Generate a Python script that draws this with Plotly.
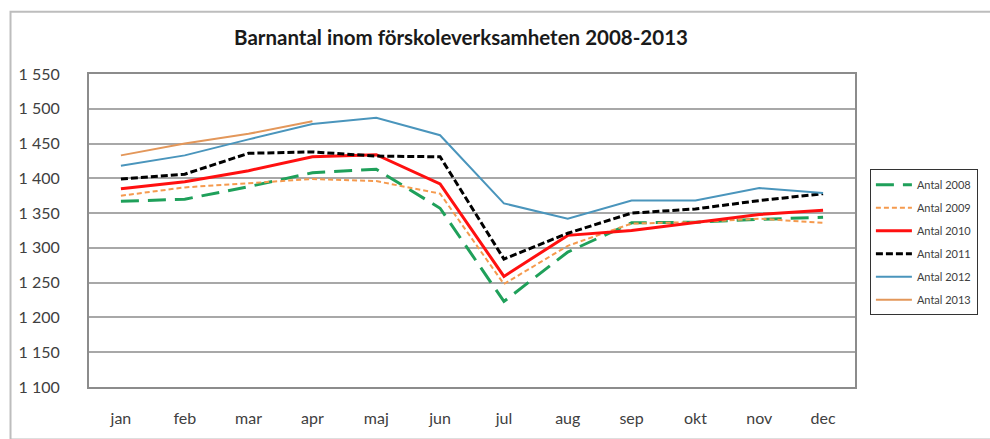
import plotly.graph_objects as go

# Months and monthly child counts per year
months = ["jan", "feb", "mar", "apr", "maj", "jun", "jul", "aug", "sep", "okt", "nov", "dec"]

antal_2008 = [1367, 1370, 1388, 1408, 1413, 1357, 1223, 1294, 1336, 1337, 1341, 1344]
antal_2009 = [1375, 1387, 1393, 1399, 1396, 1378, 1248, 1303, 1335, 1337, 1342, 1336]
antal_2010 = [1385, 1395, 1411, 1431, 1434, 1392, 1259, 1318, 1325, 1337, 1348, 1354]
antal_2011 = [1399, 1406, 1436, 1438, 1432, 1431, 1284, 1321, 1350, 1356, 1368, 1378]
antal_2012 = [1418, 1433, 1456, 1478, 1487, 1462, 1364, 1342, 1368, 1368, 1386, 1379]
antal_2013 = [1433, 1450, 1464, 1482]

y_ticks = [1100, 1150, 1200, 1250, 1300, 1350, 1400, 1450, 1500, 1550]

series = [
    ("Antal 2008", antal_2008, "#1FA05A", 3, "18px,9px"),
    ("Antal 2009", antal_2009, "#F59A4E", 2, "5px,3px"),
    ("Antal 2010", antal_2010, "#FF1010", 3, "solid"),
    ("Antal 2011", antal_2011, "#000000", 3, "7px,3px"),
    ("Antal 2012", antal_2012, "#4A95BC", 2, "solid"),
    ("Antal 2013", antal_2013, "#E3975A", 2, "solid"),
]

FONT = "Lato"

fig = go.Figure()
for i, (name, vals, color, width, dash) in enumerate(series):
    fig.add_trace(go.Scatter(
        x=months[:len(vals)], y=vals, name=name, mode="lines",
        line=dict(color=color, width=width, dash=dash),
        legendgroup=f"g{i}",
    ))

# plot area in pixels: left 89, right 860, top 74, bottom 396
W, H = 990, 439
L, R, T, B = 89, 860, 74, 396
pw, ph = R - L, B - T

def px_x(x):
    return (x - L) / pw

def px_y(y):
    return (B - y) / ph

fig.update_layout(
    width=W, height=H,
    margin=dict(l=L, r=W - R, t=T, b=H - B, pad=0),
    paper_bgcolor="white", plot_bgcolor="white",
    separators=", ",
    font=dict(family=FONT, color="#404040"),
    title=dict(
        text="<b>Barnantal inom förskoleverksamheten 2008-2013</b>",
        x=461 / W, xanchor="center",
        y=1 - 38 / H, yanchor="middle",
        font=dict(family=FONT, size=20.5, color="#1a1a1a"),
    ),
    showlegend=True,
    legend=dict(
        x=px_x(875), y=px_y(172), xanchor="left", yanchor="top",
        bordercolor="#333333", borderwidth=1, bgcolor="white",
        font=dict(family=FONT, size=11, color="#404040"),
        traceorder="grouped", tracegroupgap=4,
        itemwidth=36,
    ),
    xaxis=dict(
        type="category", categoryorder="array", categoryarray=months,
        range=[-0.5, 11.5], showgrid=False,
        showline=True, linecolor="#8c8c8c", linewidth=2, mirror=True,
        ticks="", ticklabelstandoff=16,
        tickfont=dict(family=FONT, size=16, color="#404040"),
    ),
    yaxis=dict(
        range=[1100, 1550], tickvals=y_ticks, tickformat=",d",
        showgrid=True, gridcolor="#a8a8a8", gridwidth=1.5,
        showline=True, linecolor="#8c8c8c", linewidth=2, mirror=True,
        zeroline=False, ticks="", ticklabelstandoff=24,
        tickfont=dict(family=FONT, size=16, color="#404040"),
    ),
    shapes=[dict(
        type="rect", xref="paper", yref="paper",
        x0=px_x(10), x1=px_x(1000), y0=px_y(450), y1=px_y(10),
        line=dict(color="#bdbdbd", width=2), fillcolor="rgba(0,0,0,0)",
        layer="below",
    )],
)

fig.write_html("out.html")
